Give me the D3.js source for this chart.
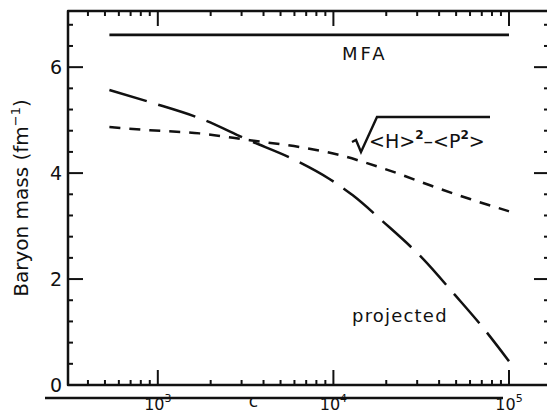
<!DOCTYPE html>
<html>
<head>
<meta charset="utf-8">
<script src="https://cdn.jsdelivr.net/npm/d3@7/dist/d3.min.js"></script>
<style>
  html, body { margin: 0; padding: 0; background: #fff; }
  svg { display: block; }
  text { font-family: "DejaVu Sans", sans-serif; fill: #111; }
</style>
</head>
<body>
<svg id="chart" width="547" height="414"></svg>
<script>
// Baryon mass versus energy, three approximations
const mfaX = [530, 100000];
const mfaY = [6.61, 6.61];

const projX = [530, 900, 1780, 3200, 6200, 9500, 12900, 19100, 32400, 49200, 71200, 100000];
const projY = [5.57, 5.34, 5.02, 4.64, 4.23, 3.89, 3.58, 3.09, 2.38, 1.70, 1.08, 0.45];

const rmsX = [530, 900, 1730, 3340, 6450, 10900, 14200, 23000, 35500, 60000, 100000];
const rmsY = [4.87, 4.81, 4.75, 4.62, 4.49, 4.34, 4.23, 4.00, 3.77, 3.51, 3.28];

const yTicks = [0, 2, 4, 6];
const yMinorTicks = [0.4, 0.8, 1.2, 1.6, 2.4, 2.8, 3.2, 3.6, 4.4, 4.8, 5.2, 5.6, 6.4, 6.8];
const xMajorTicks = [1e3, 1e4, 1e5];
const lowerLabels = [
  { v: 1e3, base: "10", sup: "3" },
  { v: 3500, base: "c", sup: "" },
  { v: 1e4, base: "10", sup: "4" },
  { v: 1e5, base: "10", sup: "5" }
];

const svg = d3.select("#chart");
const plotLeft = 68, plotRight = 549, plotTop = 11, plotBottom = 385;
const ink = "#111";

const x = d3.scaleLog().domain([300, 169000]).range([66, 549]);
const y = d3.scaleLinear().domain([0, 7.06]).range([plotBottom, plotTop]);

const xMinorTicks = x.ticks().filter(t => !xMajorTicks.includes(t) && t > 300);

// frame lines (the right edge falls just outside the drawing)
const frame = svg.append("g").attr("stroke", ink).attr("stroke-width", 2.5).attr("fill", "none");
frame.append("path")
  .attr("d", `M${plotRight},${plotTop} L${plotLeft},${plotTop} L${plotLeft},${plotBottom} L${plotRight},${plotBottom}`)
  .attr("stroke-linejoin", "round");

// inward ticks on all four sides
const ticks = svg.append("g").attr("stroke", ink).attr("stroke-width", 2);
function xTicks(values, len) {
  ticks.selectAll(null).data(values).join("line")
    .attr("x1", d => x(d)).attr("x2", d => x(d))
    .attr("y1", plotBottom).attr("y2", plotBottom - len);
  ticks.selectAll(null).data(values).join("line")
    .attr("x1", d => x(d)).attr("x2", d => x(d))
    .attr("y1", plotTop).attr("y2", plotTop + len);
}
function yTickMarks(values, len) {
  ticks.selectAll(null).data(values).join("line")
    .attr("x1", plotLeft).attr("x2", plotLeft + len)
    .attr("y1", d => y(d)).attr("y2", d => y(d));
  ticks.selectAll(null).data(values).join("line")
    .attr("x1", plotRight).attr("x2", plotRight - len)
    .attr("y1", d => y(d)).attr("y2", d => y(d));
}
xTicks(xMajorTicks, 15);
xTicks(xMinorTicks, 5);
yTickMarks(yTicks, 15);
yTickMarks(yMinorTicks, 5);

// y tick labels
svg.append("g").selectAll("text").data(yTicks).join("text")
  .attr("x", plotLeft - 6).attr("y", d => y(d)).attr("dy", "0.36em")
  .attr("text-anchor", "end").attr("font-size", 19)
  .text(d3.format("d"));

// curves
const line = d3.line().x(d => x(d[0])).y(d => y(d[1])).curve(d3.curveMonotoneX);

svg.append("path")
  .datum(d3.zip(mfaX, mfaY))
  .attr("d", line).attr("fill", "none")
  .attr("stroke", ink).attr("stroke-width", 2.6);

svg.append("path")
  .datum(d3.zip(projX, projY))
  .attr("d", line).attr("fill", "none")
  .attr("stroke", ink).attr("stroke-width", 2.5)
  .attr("stroke-dasharray", "39,12");

svg.append("path")
  .datum(d3.zip(rmsX, rmsY))
  .attr("d", line).attr("fill", "none")
  .attr("stroke", ink).attr("stroke-width", 2.5)
  .attr("stroke-dasharray", "11,9");

// curve labels
svg.append("text")
  .attr("x", 342).attr("y", 60)
  .attr("font-size", 18).attr("letter-spacing", 3)
  .text("MFA");

svg.append("text")
  .attr("x", 352).attr("y", 322)
  .attr("font-size", 18).attr("letter-spacing", 1.2)
  .text("projected");

// square-root expression
const rx = 352, ry = 142;
svg.append("path")
  .attr("d", `M${rx},${ry} L${rx + 4},${ry - 2} L${rx + 9},${ry + 10} L${rx + 25},${ry - 25} L${rx + 138},${ry - 25}`)
  .attr("fill", "none").attr("stroke", ink).attr("stroke-width", 2.4)
  .attr("stroke-linejoin", "miter");
const sq = svg.append("text").attr("x", 369).attr("y", 148).attr("font-size", 19);
sq.append("tspan").text("<H>");
sq.append("tspan").attr("font-size", 12).attr("dy", -9).attr("font-weight", "bold").text("2");
sq.append("tspan").attr("dy", 9).text("–<P");
sq.append("tspan").attr("font-size", 12).attr("dy", -9).attr("font-weight", "bold").text("2");
sq.append("tspan").attr("dy", 9).text(">");

// y-axis title
const yt = svg.append("text")
  .attr("transform", `translate(28,${(plotTop + plotBottom) / 2}) rotate(-90)`)
  .attr("text-anchor", "middle")
  .attr("font-size", 20);
yt.append("tspan").text("Baryon mass  (fm");
yt.append("tspan").attr("font-size", 13).attr("dy", -8).text("−1");
yt.append("tspan").attr("dy", 8).text(")");

// lower scale
svg.append("line")
  .attr("x1", 45).attr("x2", 503).attr("y1", 398).attr("y2", 398)
  .attr("stroke", ink).attr("stroke-width", 2.5);
lowerLabels.forEach(l => {
  const t = svg.append("text")
    .attr("x", x(l.v)).attr("y", l.sup ? 410 : 407)
    .attr("text-anchor", "middle")
    .attr("font-size", l.sup ? 16 : 17);
  t.append("tspan").text(l.base);
  if (l.sup) t.append("tspan").attr("font-size", 11).attr("dy", -8).text(l.sup);
});
</script>
</body>
</html>
